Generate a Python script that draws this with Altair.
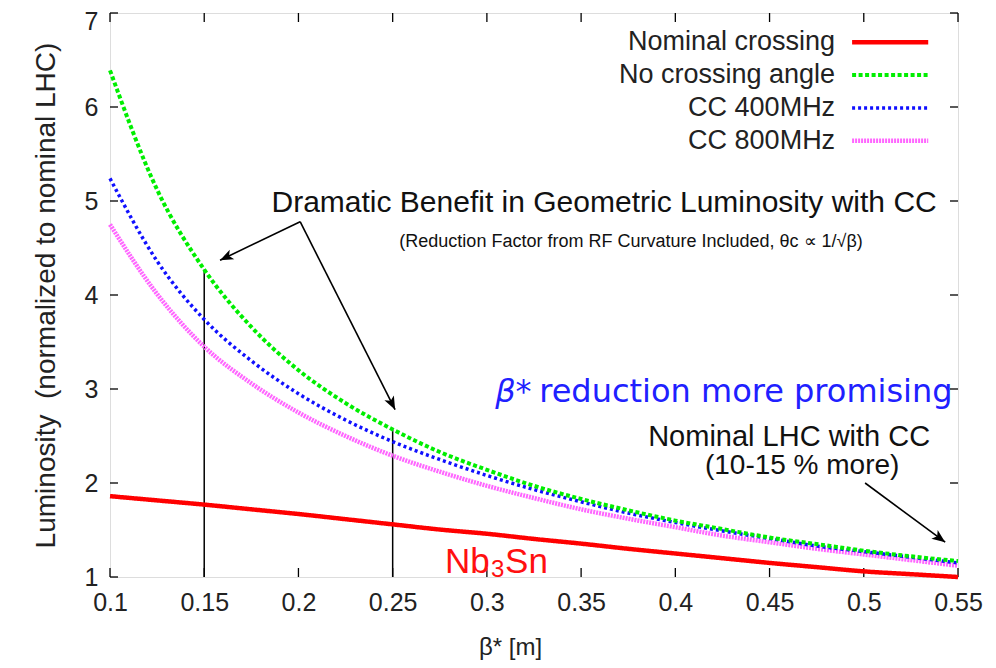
import altair as alt
import pandas as pd

# ---- data ----
beta = [0.1, 0.125, 0.15, 0.175, 0.2, 0.225, 0.25, 0.275, 0.3, 0.325, 0.35,
        0.375, 0.4, 0.425, 0.45, 0.475, 0.5, 0.525, 0.55]
nominal = [1.86, 1.815, 1.77, 1.72, 1.67, 1.615, 1.56, 1.505, 1.46, 1.405, 1.355,
           1.30, 1.25, 1.20, 1.15, 1.105, 1.06, 1.03, 1.0]
no_cross = [6.39, 5.12, 4.27, 3.66, 3.20, 2.85, 2.57, 2.33, 2.14, 1.97, 1.83,
            1.71, 1.60, 1.51, 1.42, 1.35, 1.28, 1.22, 1.17]
cc400 = [5.24, 4.36, 3.74, 3.30, 2.95, 2.67, 2.44, 2.25, 2.08, 1.93, 1.80,
         1.68, 1.58, 1.49, 1.41, 1.33, 1.27, 1.21, 1.15]
cc800 = [4.75, 4.01, 3.45, 3.06, 2.75, 2.50, 2.29, 2.12, 1.97, 1.84, 1.72,
         1.62, 1.53, 1.44, 1.37, 1.30, 1.24, 1.18, 1.12]

series_names = ["Nominal crossing", "No crossing angle", "CC 400MHz", "CC 800MHz"]
series_vals = [nominal, no_cross, cc400, cc800]
series_colors = ["#ff0000", "#00ee00", "#1010ff", "#ff66ff"]
series_dash = [[1, 0], [4, 2.5], [3, 3], [2, 1]]
series_width = [4.5, 4, 3.5, 4.5]

x_ticks = [0.1, 0.15, 0.2, 0.25, 0.3, 0.35, 0.4, 0.45, 0.5, 0.55]
y_ticks = [1, 2, 3, 4, 5, 6, 7]

legend_text_x = 0.4848
legend_line_x = [0.4938, 0.5342]
legend_y = [6.69, 6.34, 5.99, 5.64]

# vertical markers at beta*=0.15 and 0.25 (up to no-crossing curve)
vlines_x = [0.15, 0.25]
vlines_top = [4.27, 2.57]

# arrows: (start_x, start_y, tip_x, tip_y, angle)
arrows = [
    (0.2009, 4.78, 0.1584, 4.37, 244.6),
    (0.2009, 4.78, 0.2513, 2.78, 153.2),
    (0.5007, 2.00, 0.5432, 1.37, 126.4),
]

W, H = 848, 564
FONT = "Liberation Sans"

xs = alt.Scale(domain=[0.1, 0.55], nice=False, zero=False)
ys = alt.Scale(domain=[1, 7], nice=False, zero=False)

layers = []

# base axes layer
axis_df = pd.DataFrame({"x": [0.1], "y": [1]})
base = alt.Chart(axis_df).mark_point(opacity=0).encode(
    x=alt.X("x:Q", scale=xs,
            axis=alt.Axis(values=x_ticks, title="β* [m]", format="~g", ticks=False,
                          domain=False, grid=False, labelPadding=13,
                          labelFontSize=25, titleFontSize=24, titlePadding=20,
                          titleX=400, titleAnchor="middle",
                          labelFont=FONT, titleFont=FONT, titleFontWeight="normal",
                          labelColor="#222", titleColor="#222", labelFlush=False)),
    y=alt.Y("y:Q", scale=ys,
            axis=alt.Axis(values=y_ticks,
                          title="Luminosity \u00a0(normalized to nominal LHC)",
                          format="d",
                          ticks=False, domain=False, grid=False, labelPadding=12,
                          labelOffset={"condition": {"test": "datum.value == 7", "value": 8},
                                       "value": 0},
                          labelFontSize=25, titleFontSize=28, titlePadding=24,
                          labelFont=FONT, titleFont=FONT, titleFontWeight="normal",
                          labelColor="#222", titleColor="#222", labelFlush=False)),
)
layers.append(base)

# inside ticks
xt = pd.DataFrame({"x": x_ticks})
yt = pd.DataFrame({"y": y_ticks})
layers.append(alt.Chart(xt).mark_rule(color="black", strokeWidth=1.3).encode(
    x=alt.X("x:Q", scale=xs), y=alt.value(H), y2=alt.value(H - 9)))
layers.append(alt.Chart(xt).mark_rule(color="black", strokeWidth=1.3).encode(
    x=alt.X("x:Q", scale=xs), y=alt.value(0), y2=alt.value(9)))
layers.append(alt.Chart(yt).mark_rule(color="black", strokeWidth=1.3).encode(
    y=alt.Y("y:Q", scale=ys), x=alt.value(0), x2=alt.value(8)))
layers.append(alt.Chart(yt).mark_rule(color="black", strokeWidth=1.3).encode(
    y=alt.Y("y:Q", scale=ys), x=alt.value(W), x2=alt.value(W - 8)))

# vertical marker lines
vdf = pd.DataFrame({"x": vlines_x, "y": [1, 1], "y2": vlines_top})
layers.append(alt.Chart(vdf).mark_rule(color="black", strokeWidth=1.5).encode(
    x=alt.X("x:Q", scale=xs), y=alt.Y("y:Q", scale=ys), y2="y2:Q"))

# curves (magenta lowest in drawing order)
order = [3, 2, 1, 0]
for i in order:
    df = pd.DataFrame({"x": beta, "y": series_vals[i]})
    layers.append(alt.Chart(df).mark_line(
        color=series_colors[i], strokeWidth=series_width[i],
        strokeDash=series_dash[i], interpolate="monotone").encode(
        x=alt.X("x:Q", scale=xs), y=alt.Y("y:Q", scale=ys)))

# legend
for i in range(4):
    ldf = pd.DataFrame({"x": legend_line_x, "y": [legend_y[i]] * 2})
    layers.append(alt.Chart(ldf).mark_line(
        color=series_colors[i], strokeWidth=series_width[i],
        strokeDash=series_dash[i]).encode(
        x=alt.X("x:Q", scale=xs), y=alt.Y("y:Q", scale=ys)))
ltdf = pd.DataFrame({"x": [legend_text_x] * 4, "y": legend_y, "t": series_names})
layers.append(alt.Chart(ltdf).mark_text(
    align="right", baseline="middle", fontSize=27, font=FONT, color="#222").encode(
    x=alt.X("x:Q", scale=xs), y=alt.Y("y:Q", scale=ys), text="t:N"))

# arrows
adf = pd.DataFrame({
    "id": [k for k in range(len(arrows)) for _ in range(2)],
    "x": [v for a in arrows for v in (a[0], a[2])],
    "y": [v for a in arrows for v in (a[1], a[3])],
})
layers.append(alt.Chart(adf).mark_line(color="black", strokeWidth=1.6).encode(
    x=alt.X("x:Q", scale=xs), y=alt.Y("y:Q", scale=ys), detail="id:N"))
hdf = pd.DataFrame({"x": [a[2] for a in arrows], "y": [a[3] for a in arrows],
                    "ang": [a[4] for a in arrows]})
layers.append(alt.Chart(hdf).mark_point(
    shape="M0,0 L-0.4,1 L0,0.75 L0.4,1 Z", filled=True, color="black",
    size=700, opacity=1).encode(
    x=alt.X("x:Q", scale=xs), y=alt.Y("y:Q", scale=ys),
    angle=alt.Angle("ang:Q", scale=None)))

# annotation texts
notes = pd.DataFrame({
    "x": [0.3622, 0.3765, 0.4604, 0.4673],
    "y": [4.98, 4.56, 2.49, 2.18],
    "t": ["Dramatic Benefit in Geometric Luminosity with CC",
          "(Reduction Factor from RF Curvature Included, θc ∝ 1/√β)",
          "Nominal LHC with CC", "(10-15 % more)"],
    "s": [30, 18, 29, 28],
})
for k in range(len(notes)):
    layers.append(alt.Chart(notes.iloc[[k]]).mark_text(
        align="center", baseline="middle", font=FONT, fontSize=int(notes.s[k]),
        color="#111").encode(
        x=alt.X("x:Q", scale=xs), y=alt.Y("y:Q", scale=ys), text="t:N"))

blue_df = pd.DataFrame({"x": [0.3044], "y": [2.97]})
layers.append(alt.Chart(blue_df).mark_text(
    align="left", baseline="middle", font="DejaVu Sans", fontSize=32,
    color="#2020ff", fontStyle="italic").encode(
    x=alt.X("x:Q", scale=xs), y=alt.Y("y:Q", scale=ys), text=alt.value("β*")))
layers.append(alt.Chart(blue_df).mark_text(
    align="left", baseline="middle", font="DejaVu Sans", fontSize=32,
    color="#2020ff", dx=44).encode(
    x=alt.X("x:Q", scale=xs), y=alt.Y("y:Q", scale=ys),
    text=alt.value("reduction more promising")))

# Nb3Sn label with subscript
nb_df = pd.DataFrame({"x": [0.2778], "y": [1.16]})
nb_parts = [("Nb", 35, 0, 0), ("3", 24, 46, 8), ("Sn", 35, 60, 0)]
for txt, sz, ddx, ddy in nb_parts:
    layers.append(alt.Chart(nb_df).mark_text(
        align="left", baseline="middle", font=FONT, fontSize=sz,
        color="#ff1010", dx=ddx, dy=ddy).encode(
        x=alt.X("x:Q", scale=xs), y=alt.Y("y:Q", scale=ys), text=alt.value(txt)))

chart = alt.layer(*layers).properties(
    width=W, height=H,
    autosize=alt.AutoSizeParams(type="none"),
    padding={"left": 102, "top": 5, "right": 30, "bottom": 83},
).configure_view(stroke="black", strokeWidth=1.5).configure(background="white")

chart.save("out.html", embed_options={"renderer": "svg", "actions": False})
